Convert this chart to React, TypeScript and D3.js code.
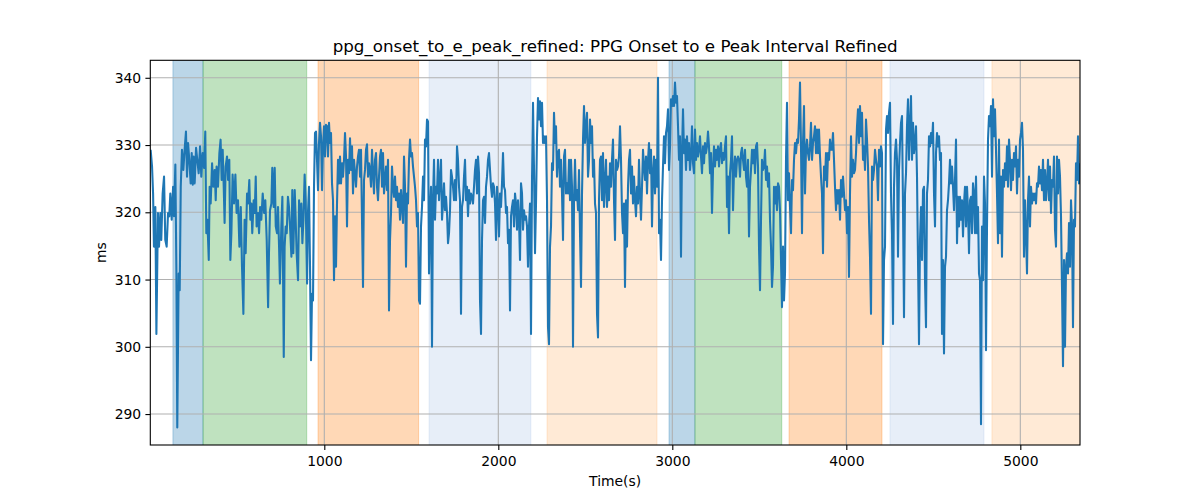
import React, { useRef, useEffect } from "react";
import { select, scaleLinear, line, axisBottom, axisLeft, extent, max } from "d3";

// figure is 1200 x 500, axes box like matplotlib's default subplot
const WIDTH = 1200;
const HEIGHT = 500;
const MARGIN = { top: 60.3, right: 120, bottom: 55, left: 150.3 };

const TITLE = "ppg_onset_to_e_peak_refined: PPG Onset to e Peak Interval Refined";
const X_LABEL = "Time(s)";
const Y_LABEL = "ms";

const X_TICKS = [1000, 2000, 3000, 4000, 5000];
const Y_TICKS = [290, 300, 310, 320, 330, 340];

// shaded phases (seconds)
const SPAN_START = [130, 303, 964, 1602, 2280, 2981, 3130, 3671, 4251, 4837];
const SPAN_END = [303, 899, 1542, 2187, 2912, 3130, 3629, 4205, 4791, 5400];
const SPAN_COLOR = ["#1f77b4", "#2ca02c", "#ff7f0e", "#aec7e8", "#ffbb78", "#1f77b4", "#2ca02c", "#ff7f0e", "#aec7e8", "#ffbb78"];

// first stretch, read at irregular times
const HEAD_SEC = [
    2, 10, 16, 21, 29, 35, 44, 50, 58, 63, 71, 79, 86, 94, 102, 109, 115, 123, 131, 136,
    144, 150, 155, 163, 169, 175, 182, 190, 198, 205, 211, 217, 224, 232, 238, 244, 249, 255, 263, 270,
    278, 286, 293, 301, 309, 316, 322, 328, 336, 341, 347, 355, 362, 370, 376, 381, 389, 397, 404, 410,
    416, 422, 427, 433, 441, 447, 454, 460, 466, 473, 481, 489, 496, 504, 512, 520, 527, 535, 542, 548,
    556, 562, 569, 575, 581, 586, 594, 600, 606, 611, 619, 625, 631, 638, 646, 654, 661, 669, 677, 682,
    688, 696, 701, 709, 715, 721, 728, 734, 740, 745, 753, 759, 767, 772, 778, 784, 791, 797, 803, 811,
    816, 822, 830, 835, 841, 849, 855, 860, 868, 874, 880, 887, 893, 901, 906,
];
const HEAD_MS = [
    329.3, 326.8, 322.8, 314.9, 320.8, 301.9, 319.9, 314.9, 319.9, 315.9,
    322.8, 325.3, 315.9, 314.9, 319.9, 319.4, 322.8, 318.9, 323.8, 319.4,
    327.1, 310.9, 288.0, 310.9, 308.4, 323.8, 329.3, 326.3, 329.6, 332.0,
    325.3, 330.3, 327.8, 324.3, 328.8, 324.1, 328.3, 324.3, 329.6, 327.8,
    325.8, 329.8, 325.3, 328.8, 326.6, 332.0, 316.9, 318.9, 312.9, 323.8,
    321.3, 327.3, 323.8, 326.3, 321.8, 326.8, 323.8, 328.8, 330.8, 324.8,
    329.3, 323.8, 318.4, 326.8, 328.3, 324.8, 327.8, 312.9, 316.9, 325.6,
    321.3, 325.6, 319.9, 321.8, 314.9, 320.8, 311.9, 304.9, 318.9, 313.9,
    322.8, 321.3, 324.8, 318.9, 321.3, 316.9, 321.8, 319.9, 325.3, 317.9,
    319.9, 316.9, 320.8, 318.9, 322.8, 319.9, 321.8, 315.9, 305.9, 313.9,
    320.3, 321.3, 326.6, 320.8, 326.6, 317.9, 316.9, 320.8, 314.9, 309.4,
    317.9, 322.3, 298.5, 314.9, 317.9, 316.9, 322.3, 320.8, 317.9, 313.4,
    323.3, 313.9, 323.3, 319.4, 313.9, 309.9, 321.8, 317.9, 321.3, 315.4,
    318.9, 325.6, 321.8, 309.4, 319.9,
];

// rest of the record, one reading every TAIL_STEP seconds from TAIL_START
const TAIL_START = 912.1;
const TAIL_STEP = 5.747;
const TAIL_MS = [
    323.8, 311.9, 298.0, 307.9, 306.9, 323.8,
    331.8, 332.0, 327.8, 323.3, 330.3, 333.3, 331.3, 323.3, 329.8, 332.8,
    328.3, 333.0, 332.8, 328.3, 333.3, 330.3, 331.8, 324.3, 321.8, 309.9,
    319.4, 311.9, 321.3, 327.8, 324.3, 328.3, 324.3, 327.3, 325.3, 327.8,
    331.8, 328.3, 317.9, 327.8, 325.8, 331.0, 326.3, 329.8, 322.8, 327.8,
    325.8, 323.8, 326.8, 328.3, 329.3, 325.3, 329.3, 318.9, 308.9, 324.8,
    326.3, 329.3, 330.1, 325.3, 327.3, 326.3, 323.8, 329.3, 325.8, 322.8,
    327.8, 328.8, 323.8, 321.8, 325.3, 328.3, 329.3, 323.8, 328.8, 322.8,
    324.8, 326.8, 323.3, 327.8, 305.4, 315.9, 319.9, 326.8, 323.8, 322.3,
    325.3, 321.8, 323.8, 320.8, 322.8, 318.9, 323.3, 320.8, 318.4, 328.3,
    323.8, 311.9, 322.8, 321.3, 327.8, 330.8, 328.3, 328.8, 326.8, 325.3,
    323.8, 321.8, 317.9, 319.9, 306.9, 306.4, 317.9, 320.8, 325.3, 321.8,
    330.8, 329.8, 333.8, 333.5, 310.9, 320.3, 323.8, 300.0, 321.8, 327.8,
    318.9, 323.8, 322.8, 327.8, 321.8, 324.8, 327.8, 318.9, 321.3, 324.3,
    320.3, 322.3, 319.9, 315.4, 316.9, 320.3, 326.3, 325.3, 323.8, 321.8,
    324.8, 321.8, 329.8, 327.8, 323.8, 321.8, 304.9, 320.8,

    321.8, 325.3, 327.8, 321.8, 323.8, 319.4, 323.3, 321.3, 322.8, 322.3,
    321.3, 323.8, 326.3, 327.8, 322.8, 328.3, 325.8, 306.9, 301.9, 315.9,
    321.8, 322.3, 318.4, 323.8, 325.3, 327.8, 328.8, 326.3, 323.8, 322.3,
    324.3, 323.8, 321.3, 315.9, 323.8, 321.3, 316.4, 322.8, 320.8, 324.3,
    328.8, 323.8, 323.3, 319.9, 320.8, 315.4, 317.4, 305.4, 319.4, 320.8,
    321.8, 317.9, 322.8, 321.3, 317.4, 321.8, 318.9, 312.9, 324.3, 322.8,
    317.4, 320.3, 318.9, 319.4, 317.9, 311.9, 317.9, 321.3, 301.9, 324.8,
    336.3, 326.3, 313.9, 321.3, 331.3, 337.0, 333.8, 336.5, 332.8, 336.3,
    330.3, 331.3, 330.3, 331.3, 321.8, 302.9, 300.4, 314.9, 317.9, 327.3,
    326.3, 334.8, 330.3, 332.8, 325.3, 328.8, 329.3, 323.8, 327.8, 322.8,
    315.9, 328.3, 329.3, 322.8, 324.3, 322.8, 327.8, 321.8, 327.8, 323.8,
    300.0, 321.8, 327.8, 321.8, 323.3, 320.3, 326.3, 316.9, 308.9, 322.8,
    330.8, 335.8, 330.3, 332.8, 334.8, 325.3, 327.8, 333.8, 330.3, 332.8,
    325.3, 327.8, 321.3, 319.9, 304.9, 301.4, 321.8, 327.8, 328.3, 321.8,
    328.8, 320.8, 324.3, 327.8, 320.8, 325.3, 321.8, 327.3, 323.8, 327.8,
    330.8, 321.8, 315.9, 327.8, 326.3, 326.8,

    328.3, 332.8, 327.8, 319.9, 316.9, 321.3, 308.9, 321.8, 314.9, 323.8,
    327.8, 329.3, 322.8, 326.8, 321.3, 325.3, 321.8, 319.4, 323.8, 321.3,
    327.8, 322.8, 318.9, 323.8, 329.3, 326.8, 324.8, 328.3, 322.8, 327.8,
    330.3, 325.8, 329.3, 317.9, 325.8, 328.3, 322.8, 327.8, 323.8, 340.0,
    316.9, 318.9, 312.9, 321.8, 326.8, 331.3, 327.3, 331.8, 332.8, 335.3,
    326.3, 329.8, 336.8, 335.8, 337.3, 335.8, 339.3, 336.3, 337.3, 332.8,
    327.8, 331.3, 313.4, 328.8, 335.3, 328.8, 330.8, 326.3, 331.3, 327.8,
    330.3, 326.3, 328.3, 332.8, 327.3, 325.8, 332.3, 327.8, 330.3, 328.3,
    329.3, 331.3, 328.3, 325.8, 329.8, 327.3, 330.3, 328.8, 329.8, 332.0,
    329.8, 325.8, 328.8, 319.9, 326.3, 329.8, 326.8, 329.3, 327.8, 329.8,
    326.8, 329.3, 330.3, 327.3, 328.8, 327.8, 329.8, 331.3, 320.8, 325.3,
    316.9, 325.8, 327.8, 331.3, 320.3, 326.3, 328.3, 325.3, 327.8, 328.3,
    327.8, 325.3, 328.8, 329.6, 327.8, 326.3, 329.3, 325.3, 323.8, 327.8,
    316.4, 323.8, 326.3, 329.3, 327.3, 329.3, 325.8, 329.8, 330.3, 326.8,
    314.9, 308.4, 318.9, 327.8, 326.3, 326.8, 329.3, 324.8, 326.8, 323.8,
    325.8, 318.9, 314.9, 308.9, 311.9,

    323.8, 321.3, 323.8, 320.3, 324.3, 323.8, 320.3, 312.9, 305.9, 314.9,
    306.9, 310.9, 327.8, 336.3, 321.8, 325.8, 320.8, 316.9, 324.8, 323.3,
    327.8, 330.3, 328.8, 330.8, 330.3, 333.8, 339.3, 329.8, 316.9, 330.3,
    335.8, 322.8, 329.3, 330.8, 328.8, 327.8, 329.8, 333.3, 327.8, 330.3,
    331.3, 332.8, 328.8, 332.3, 328.8, 332.3, 328.3, 325.3, 322.8, 313.9,
    326.8, 324.8, 328.8, 323.8, 328.8, 327.8, 330.8, 329.3, 329.3, 331.8,
    327.8, 323.8, 320.3, 323.3, 321.3, 323.3, 318.9, 324.8, 322.3, 325.3,
    322.8, 320.3, 321.8, 316.9, 320.8, 310.4, 322.8, 331.3, 325.3, 327.8,
    325.8, 326.3, 328.8, 332.8, 335.3, 330.3, 335.8, 331.3, 334.8, 327.8,
    329.8, 326.3, 333.8, 330.8, 326.8, 318.9, 313.4, 304.9, 326.8, 324.8,
    326.3, 329.3, 327.8, 326.8, 321.8, 329.3, 326.8, 329.8, 328.8, 300.4,
    312.9, 314.9, 332.3, 334.3, 331.8, 334.8, 336.3, 322.8, 316.9, 303.4,
    323.8, 328.8, 330.8, 327.8, 313.4, 326.3, 330.3, 333.3, 334.3, 320.8,
    304.4, 322.8, 325.8, 332.8, 336.8, 327.8, 332.8, 337.3, 327.8, 333.3,
    328.8, 330.3, 332.8, 325.3, 312.9, 300.4, 315.9, 320.8, 312.9, 323.3,
    323.8, 309.9, 302.9, 322.8, 324.8,

    331.3, 329.8, 331.8, 330.3, 333.3, 322.8, 317.9, 328.8, 331.8, 329.8,
    331.3, 327.8, 328.8, 301.9, 312.9, 299.0, 311.9, 313.4, 320.3, 321.8,
    324.3, 327.8, 324.3, 326.8, 323.8, 320.3, 324.8, 330.8, 315.4, 322.3,
    317.9, 322.3, 318.9, 321.8, 316.4, 321.3, 323.8, 317.9, 323.8, 320.3,
    313.9, 321.8, 322.3, 316.9, 324.3, 322.8, 316.9, 325.3, 316.9, 320.8,
    310.9, 309.9, 288.5, 317.9, 309.9, 325.3, 321.3, 299.5, 317.9, 330.8,
    334.3, 332.8, 335.8, 325.3, 336.8, 331.3, 335.3, 329.3, 322.8, 315.4,
    330.8, 316.9, 325.3, 313.4, 326.3, 323.8, 327.3, 324.8, 329.8, 323.8,
    330.8, 327.8, 323.3, 327.8, 324.8, 328.8, 326.8, 329.8, 322.8, 327.8,
    325.3, 330.8, 331.8, 333.3, 329.3, 313.4, 321.8, 316.9, 310.9, 321.8,
    325.3, 317.9, 323.8, 321.3, 322.8, 321.8, 322.8, 321.3, 324.3, 323.8,
    326.8, 324.3, 326.3, 323.3, 327.8, 321.8, 326.3, 321.8, 324.3, 327.8,
    321.8, 326.8, 319.9, 324.8, 323.8, 328.3, 317.4, 314.9, 328.3, 322.8,
    327.8, 325.3, 319.4, 308.9, 297.1, 312.9, 300.0, 311.9, 313.9, 310.9,
    318.4, 311.9, 321.8, 317.9, 302.9, 318.9, 317.9, 327.3, 324.8, 331.3,
    324.3, 327.3,
];

const FONT = "DejaVu Sans, Liberation Sans, sans-serif";

export default function App() {
    const svgRef = useRef<SVGSVGElement>(null);

    useEffect(() => {
        const svg = select(svgRef.current);
        svg.selectAll("*").remove();

        const data = [
            ...HEAD_SEC.map((t, i) => ({ t, v: HEAD_MS[i] })),
            ...TAIL_MS.map((v, i) => ({ t: TAIL_START + i * TAIL_STEP, v })),
        ];

        const x0 = MARGIN.left;
        const x1 = WIDTH - MARGIN.right;
        const y0 = MARGIN.top;
        const y1 = HEIGHT - MARGIN.bottom;

        // x runs over the data, y gets matplotlib's 5% margin
        const xScale = scaleLinear()
            .domain([0, max(data, (d) => d.t) as number])
            .range([x0, x1]);
        const [lo, hi] = extent(data, (d) => d.v) as [number, number];
        const pad = (hi - lo) * 0.05;
        const yScale = scaleLinear()
            .domain([lo - pad, hi + pad])
            .range([y1, y0]);

        svg.append("defs")
            .append("clipPath")
            .attr("id", "plot-clip")
            .append("rect")
            .attr("x", x0)
            .attr("y", y0)
            .attr("width", x1 - x0)
            .attr("height", y1 - y0);

        const plot = svg.append("g").attr("clip-path", "url(#plot-clip)");

        // axvspan shading
        plot.selectAll(".span")
            .data(SPAN_START.map((s, i) => ({ s, e: SPAN_END[i], c: SPAN_COLOR[i] })))
            .join("rect")
            .attr("class", "span")
            .attr("x", (d) => xScale(d.s))
            .attr("y", y0 - 2)
            .attr("width", (d) => xScale(d.e) - xScale(d.s))
            .attr("height", y1 - y0 + 4)
            .attr("fill", (d) => d.c)
            .attr("fill-opacity", 0.3)
            .attr("stroke", (d) => d.c)
            .attr("stroke-opacity", 0.3)
            .attr("stroke-width", 1);

        // grid
        plot.selectAll(".vgrid")
            .data(X_TICKS)
            .join("line")
            .attr("class", "vgrid")
            .attr("x1", (d) => xScale(d))
            .attr("x2", (d) => xScale(d))
            .attr("y1", y0)
            .attr("y2", y1)
            .attr("stroke", "#b0b0b0")
            .attr("stroke-width", 1.1);
        plot.selectAll(".hgrid")
            .data(Y_TICKS)
            .join("line")
            .attr("class", "hgrid")
            .attr("x1", x0)
            .attr("x2", x1)
            .attr("y1", (d) => yScale(d))
            .attr("y2", (d) => yScale(d))
            .attr("stroke", "#b0b0b0")
            .attr("stroke-width", 1.1);

        const myLine = line<{ t: number; v: number }>()
            .x((d) => xScale(d.t))
            .y((d) => yScale(d.v));

        plot.append("path")
            .datum(data)
            .attr("d", myLine)
            .attr("fill", "none")
            .attr("stroke", "#1f77b4")
            .attr("stroke-width", 2.08)
            .attr("stroke-linejoin", "round");

        // axes
        const xAxis = axisBottom(xScale)
            .tickValues(X_TICKS)
            .tickFormat((d) => String(d))
            .tickSize(4.9)
            .tickSizeOuter(0)
            .tickPadding(6.3);
        const gx = svg.append("g").attr("transform", `translate(0,${y1})`).call(xAxis);

        const yAxis = axisLeft(yScale)
            .tickValues(Y_TICKS)
            .tickFormat((d) => String(d))
            .tickSize(4.9)
            .tickSizeOuter(0)
            .tickPadding(4.2);
        const gy = svg.append("g").attr("transform", `translate(${x0},0)`).call(yAxis);

        [gx, gy].forEach((g) => {
            g.attr("font-family", FONT).attr("font-size", 13.9);
            g.select(".domain").remove();
            g.selectAll(".tick line").attr("stroke", "#000").attr("stroke-width", 1.1);
            g.selectAll(".tick text").attr("fill", "#000");
        });

        // frame
        svg.append("rect")
            .attr("x", x0)
            .attr("y", y0)
            .attr("width", x1 - x0)
            .attr("height", y1 - y0)
            .attr("fill", "none")
            .attr("stroke", "#000")
            .attr("stroke-width", 1.1);

        svg.append("text")
            .attr("x", (x0 + x1) / 2)
            .attr("y", 52)
            .attr("text-anchor", "middle")
            .attr("font-family", FONT)
            .attr("font-size", 16.7)
            .text(TITLE);

        svg.append("text")
            .attr("x", (x0 + x1) / 2)
            .attr("y", 486)
            .attr("text-anchor", "middle")
            .attr("font-family", FONT)
            .attr("font-size", 13.9)
            .text(X_LABEL);

        svg.append("text")
            .attr("transform", `translate(106,${(y0 + y1) / 2}) rotate(-90)`)
            .attr("text-anchor", "middle")
            .attr("font-family", FONT)
            .attr("font-size", 13.9)
            .text(Y_LABEL);
    }, []);

    return (
        <svg
            ref={svgRef}
            width={WIDTH}
            height={HEIGHT}
            style={{ position: "absolute", left: 0, top: 0, background: "#fff" }}
        />
    );
}
